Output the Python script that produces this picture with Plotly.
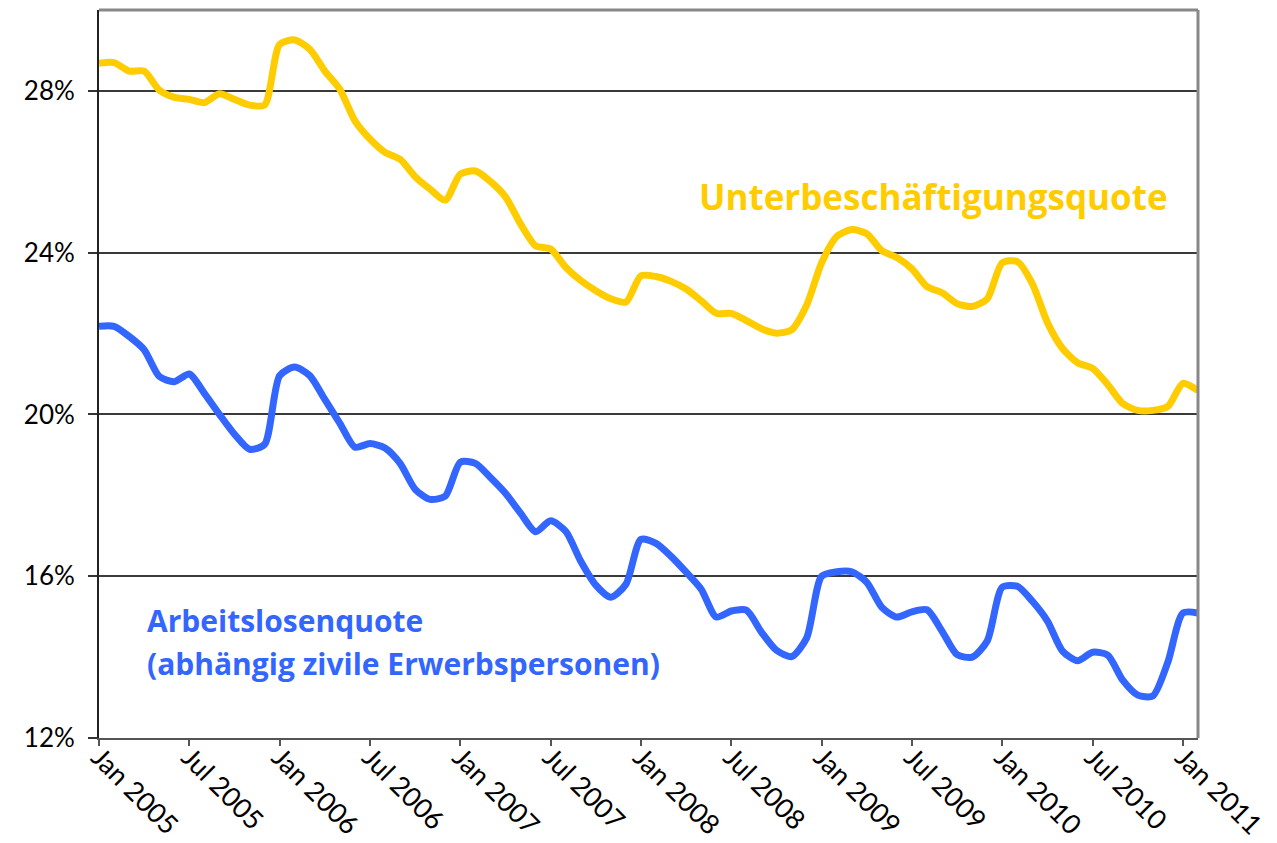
import plotly.graph_objects as go

month_names = ["Jan", "Feb", "Mar", "Apr", "May", "Jun", "Jul", "Aug", "Sep", "Oct", "Nov", "Dec"]
years = [2005, 2006, 2007, 2008, 2009, 2010, 2011]
months = [f"{m} {y}" for y in years for m in month_names][:74]  # Jan 2005 .. Feb 2011

unterbeschaeftigung = [
    28.68, 28.70, 28.49, 28.49, 28.02, 27.84, 27.79, 27.71, 27.93, 27.79, 27.65, 27.65,
    29.15, 29.26, 29.03, 28.49, 28.04, 27.26, 26.81, 26.48, 26.31, 25.88, 25.57, 25.30,
    25.94, 26.02, 25.76, 25.38, 24.71, 24.17, 24.09, 23.64, 23.31, 23.06, 22.86, 22.78,
    23.43, 23.41, 23.29, 23.10, 22.81, 22.50, 22.50, 22.32, 22.12, 22.01, 22.09, 22.70,
    23.75, 24.40, 24.57, 24.47, 24.05, 23.88, 23.60, 23.16, 23.01, 22.74, 22.67, 22.86,
    23.75, 23.78, 23.23, 22.27, 21.63, 21.28, 21.14, 20.74, 20.27, 20.10, 20.10, 20.20,
    20.77, 20.59,
]

arbeitslosen = [
    22.18, 22.18, 21.93, 21.60, 20.94, 20.81, 21.00, 20.52, 20.00, 19.51, 19.14, 19.26,
    20.96, 21.17, 20.96, 20.37, 19.78, 19.19, 19.28, 19.17, 18.79, 18.15, 17.90, 17.98,
    18.82, 18.79, 18.44, 18.05, 17.56, 17.10, 17.37, 17.11, 16.37, 15.78, 15.48, 15.80,
    16.91, 16.81, 16.49, 16.10, 15.68, 14.99, 15.14, 15.16, 14.62, 14.17, 14.01, 14.47,
    16.00, 16.11, 16.11, 15.85, 15.23, 14.99, 15.12, 15.17, 14.64, 14.06, 14.00, 14.40,
    15.73, 15.75, 15.38, 14.89, 14.15, 13.91, 14.12, 14.05, 13.43, 13.06, 13.04, 13.88,
    15.09, 15.09,
]

x_tick_labels = ["Jan 2005", "Jul 2005", "Jan 2006", "Jul 2006", "Jan 2007", "Jul 2007",
                 "Jan 2008", "Jul 2008", "Jan 2009", "Jul 2009", "Jan 2010", "Jul 2010", "Jan 2011"]
y_tick_vals = [12, 16, 20, 24, 28]
y_tick_labels = ["12%", "16%", "20%", "24%", "28%"]

YELLOW = "#FFCC00"
BLUE = "#3366FF"
FONT = "Lato"
LABEL_FONT = "Open Sans"

fig = go.Figure()
fig.add_trace(go.Scatter(
    x=months, y=unterbeschaeftigung, mode="lines",
    line=dict(color=YELLOW, width=7, shape="spline", smoothing=0.7),
    name="Unterbeschäftigungsquote", showlegend=False,
))
fig.add_trace(go.Scatter(
    x=months, y=arbeitslosen, mode="lines",
    line=dict(color=BLUE, width=7, shape="spline", smoothing=0.7),
    name="Arbeitslosenquote", showlegend=False,
))

# page body has an 8px margin, so the figure is sized to fit the window
fig.update_layout(
    width=1269, height=835,
    margin=dict(l=91, r=79, t=2, b=105, autoexpand=False),
    paper_bgcolor="white", plot_bgcolor="white",
    font=dict(family=FONT, size=26, color="black"),
    showlegend=False,
)

fig.update_xaxes(
    type="category", range=[0, 73], automargin=False,
    tickmode="array", tickvals=x_tick_labels, ticktext=x_tick_labels,
    tickangle=45, ticks="outside", ticklen=6, tickcolor="#555", tickwidth=2,
    ticklabelstandoff=-15,
    showline=True, linecolor="#555", linewidth=2,
    showgrid=False, zeroline=False,
    tickfont=dict(family=FONT, size=27, color="black"),
)
fig.update_yaxes(
    range=[12, 30], automargin=False,
    tickmode="array", tickvals=y_tick_vals, ticktext=y_tick_labels,
    ticks="outside", ticklen=9, tickcolor="#333", tickwidth=1.5,
    ticklabelstandoff=8,
    showline=True, linecolor="#222", linewidth=2,
    showgrid=True, gridcolor="#3a3a3a", gridwidth=1.5,
    zeroline=False,
    tickfont=dict(family=FONT, size=26, color="black"),
)

# Gray frame on top and right
fig.add_shape(type="line", xref="paper", yref="paper", x0=0, x1=1, y0=1, y1=1,
              line=dict(color="#888888", width=3))
fig.add_shape(type="line", xref="paper", yref="paper", x0=1, x1=1, y0=0, y1=1,
              line=dict(color="#888888", width=3))

fig.add_annotation(
    text="<b>Unterbeschäftigungsquote</b>", xref="paper", yref="paper",
    x=(697 - 99) / 1099, y=(738 - 197) / 728, xanchor="left", yanchor="middle", showarrow=False,
    font=dict(family=LABEL_FONT, size=35, color=YELLOW),
)
fig.add_annotation(
    text="<b>Arbeitslosenquote</b>", xref="paper", yref="paper",
    x=(145 - 99) / 1099, y=(738 - 620) / 728, xanchor="left", yanchor="middle", showarrow=False,
    font=dict(family=LABEL_FONT, size=30, color=BLUE),
)
fig.add_annotation(
    text="<b>(abhängig zivile Erwerbspersonen)</b>", xref="paper", yref="paper",
    x=(145 - 99) / 1099, y=(738 - 663) / 728, xanchor="left", yanchor="middle", showarrow=False,
    font=dict(family=LABEL_FONT, size=30, color=BLUE),
)

fig.write_html("out.html")
